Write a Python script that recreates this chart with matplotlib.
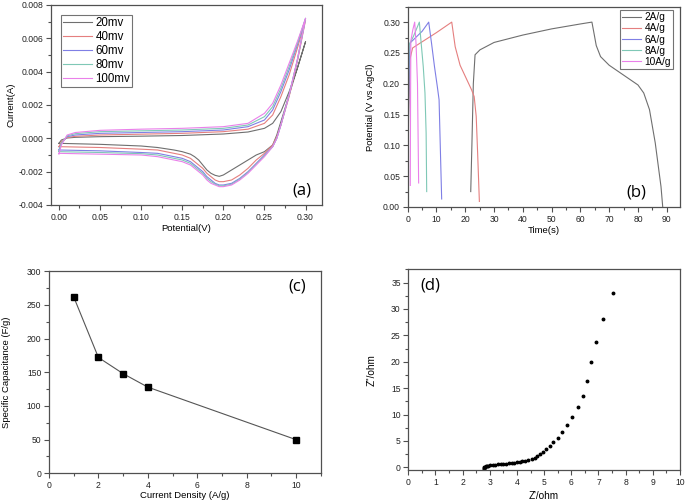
import matplotlib
matplotlib.use("Agg")
import matplotlib.pyplot as plt
from matplotlib.ticker import MultipleLocator, FormatStrFormatter

plt.rcParams['font.family'] = ['Liberation Sans', 'DejaVu Sans']

# ---------------- (a) CV data ----------------
cv_labels = ["20mv", "40mv", "60mv", "80mv", "100mv"]
cv_colors = ["#6f6f6f", "#e57f7f", "#7f7fe5", "#7fc8b6", "#ea80ea"]

v_up = [0.0, 0.003, 0.01, 0.02, 0.05, 0.10, 0.15, 0.20, 0.23, 0.25, 0.26, 0.27, 0.28, 0.29, 0.30]
i_up_20 = [-0.0003, -0.0001, 0.00002, 0.00006, 0.0001, 0.00013, 0.00017, 0.00026, 0.00038, 0.0006, 0.0009, 0.0016, 0.0028, 0.0042, 0.0058]
i_up_40 = [-0.0005, -0.0002, 0.00005, 0.00012, 0.0002, 0.00025, 0.0003, 0.0004, 0.00055, 0.0009, 0.0014, 0.0025, 0.0038, 0.0054, 0.0071]
i_up_60 = [-0.0007, -0.0003, 0.0001, 0.0002, 0.0003, 0.00035, 0.0004, 0.0005, 0.0007, 0.0011, 0.0017, 0.0028, 0.0041, 0.0056, 0.0072]
i_up_80 = [-0.0008, -0.0003, 0.00015, 0.00028, 0.0004, 0.00045, 0.0005, 0.0006, 0.0008, 0.0013, 0.0019, 0.0030, 0.0043, 0.0057, 0.0072]
i_up_100 = [-0.00095, -0.0004, 0.0002, 0.00035, 0.00048, 0.00055, 0.0006, 0.0007, 0.0009, 0.0015, 0.0021, 0.0032, 0.0045, 0.0058, 0.0072]

v_dn = [0.30, 0.29, 0.28, 0.27, 0.265, 0.26, 0.25, 0.24, 0.23, 0.22, 0.21, 0.20, 0.195, 0.19, 0.185, 0.18, 0.175, 0.17, 0.165, 0.16, 0.15, 0.14, 0.12, 0.10, 0.05, 0.0]
i_dn_20 = [0.0058, 0.0042, 0.0026, 0.0010, 0.0002, -0.0004, -0.0008, -0.0010, -0.0013, -0.0016, -0.0019, -0.0022, -0.00228, -0.00222, -0.0021, -0.0019, -0.0016, -0.0013, -0.0011, -0.00095, -0.0008, -0.0007, -0.00055, -0.00046, -0.00036, -0.0003]
i_dn_40 = [0.0071, 0.0046, 0.0025, 0.0008, 0.0001, -0.0004, -0.0009, -0.0013, -0.0018, -0.0022, -0.0025, -0.0026, -0.0026, -0.0025, -0.0023, -0.0021, -0.0018, -0.0016, -0.0014, -0.0012, -0.0010, -0.0009, -0.0007, -0.00065, -0.00055, -0.0005]
i_dn_60 = [0.0072, 0.0047, 0.0026, 0.0008, 0.0, -0.0005, -0.0010, -0.0015, -0.0020, -0.0024, -0.0027, -0.0028, -0.0028, -0.0027, -0.0025, -0.0023, -0.0020, -0.0018, -0.0016, -0.0014, -0.0012, -0.0011, -0.0009, -0.00085, -0.00075, -0.0007]
i_dn_80 = [0.0072, 0.0047, 0.0026, 0.0008, 0.0, -0.0005, -0.00105, -0.00155, -0.00205, -0.00245, -0.00275, -0.00285, -0.00285, -0.00275, -0.0026, -0.0024, -0.0021, -0.0019, -0.0017, -0.0015, -0.0013, -0.0012, -0.0010, -0.00092, -0.00085, -0.0008]
i_dn_100 = [0.0072, 0.0047, 0.0026, 0.0008, 0.0, -0.0005, -0.0011, -0.0016, -0.0021, -0.0025, -0.0028, -0.0029, -0.0029, -0.0028, -0.0027, -0.0025, -0.0022, -0.0020, -0.0018, -0.0016, -0.0014, -0.0013, -0.0011, -0.0010, -0.00095, -0.0009]

# ---------------- (b) GCD data ----------------
gcd_labels = ["2A/g", "4A/g", "6A/g", "8A/g", "10A/g"]
gcd_colors = ["#6f6f6f", "#e57f7f", "#7f7fe5", "#7fc8b6", "#ea80ea"]
t_2 = [21.9, 22.3, 22.8, 23.4, 25.1, 30, 40, 50, 60, 64.0, 64.6, 65.5, 67, 70, 75, 80, 82, 84, 86, 88, 88.6]
v_2 = [0.025, 0.10, 0.20, 0.247, 0.255, 0.267, 0.279, 0.289, 0.297, 0.30, 0.285, 0.262, 0.244, 0.23, 0.214, 0.198, 0.185, 0.158, 0.104, 0.033, 0.0]
t_4 = [0.0, 0.3, 0.8, 1.7, 5, 10, 15.3, 16.5, 18.2, 20.3, 22.2, 23.1, 23.8, 24.3, 24.9]
v_4 = [0.0, 0.15, 0.24, 0.258, 0.268, 0.283, 0.30, 0.26, 0.23, 0.209, 0.19, 0.179, 0.147, 0.087, 0.009]
t_6 = [0.0, 0.2, 0.6, 0.8, 3, 5, 7.3, 8.3, 9.3, 10.3, 10.9, 11.2, 11.8]
v_6 = [0.0, 0.12, 0.24, 0.266, 0.276, 0.285, 0.30, 0.265, 0.228, 0.195, 0.174, 0.12, 0.013]
t_8 = [0.0, 0.15, 0.4, 0.5, 2, 4.05, 4.6, 5.4, 6.0, 6.4, 6.6]
v_8 = [0.0, 0.13, 0.24, 0.263, 0.277, 0.30, 0.27, 0.228, 0.185, 0.12, 0.025]
t_10 = [0.9, 1.0, 1.1, 1.8, 2.43, 2.9, 3.4, 3.6, 3.8]
v_10 = [0.035, 0.18, 0.27, 0.288, 0.30, 0.265, 0.20, 0.12, 0.039]

# ---------------- (c) capacitance ----------------
current_density = [1, 2, 3, 4, 10]
capacitance = [262, 172, 148, 128, 50]

# ---------------- (d) Nyquist ----------------
z_re = [2.78, 2.79, 2.80, 2.82, 2.85, 2.90, 2.95, 3.0, 3.1, 3.2, 3.3, 3.4, 3.5, 3.6, 3.7, 3.8, 3.9, 4.0, 4.1, 4.2, 4.3, 4.4,
        4.55, 4.65, 4.75, 4.85, 4.96, 5.07, 5.20, 5.34, 5.50, 5.67, 5.85, 6.04, 6.23, 6.44, 6.58, 6.71, 6.91, 7.18, 7.55]
z_im = [-0.3, -0.1, 0.05, 0.15, 0.22, 0.30, 0.35, 0.40, 0.45, 0.50, 0.55, 0.60, 0.65, 0.70, 0.75, 0.80, 0.87, 0.95, 1.05, 1.15, 1.25, 1.35,
        1.5, 1.8, 2.1, 2.5, 2.9, 3.4, 4.0, 4.8, 5.6, 6.7, 8.0, 9.5, 11.4, 13.6, 16.4, 19.9, 23.7, 28.0, 33.0]

W, H = 685, 501
fig = plt.figure(figsize=(W / 100, H / 100), dpi=100)

def px_axes(l, t, r, b):
    return fig.add_axes([l / W, 1 - b / H, (r - l) / W, (b - t) / H])

spine_c = "#505050"
tick_fs = 6.2
lab_fs = 6.8

def style(ax):
    for s in ax.spines.values():
        s.set_color(spine_c)
        s.set_linewidth(0.9)
    ax.tick_params(which='both', direction='out', top=False, right=False, colors=spine_c,
                   labelcolor='#222222', labelsize=tick_fs, width=0.8)
    ax.tick_params(which='major', length=3.5, pad=2)
    ax.tick_params(which='minor', length=2)

# (a)
axa = px_axes(50.7, 5, 322, 205)
ups = [i_up_20, i_up_40, i_up_60, i_up_80, i_up_100]
dns = [i_dn_20, i_dn_40, i_dn_60, i_dn_80, i_dn_100]
for lab, c, iu, idn in zip(cv_labels, cv_colors, ups, dns):
    axa.plot(v_up + v_dn[1:], iu + idn[1:], color=c, lw=0.8, label=lab)
axa.set_xlim(-0.01, 0.32)
axa.set_ylim(-0.004, 0.008)
axa.xaxis.set_major_locator(MultipleLocator(0.05))
axa.xaxis.set_minor_locator(MultipleLocator(0.025))
axa.yaxis.set_major_locator(MultipleLocator(0.002))
axa.yaxis.set_minor_locator(MultipleLocator(0.001))
axa.xaxis.set_major_formatter(FormatStrFormatter('%.2f'))
axa.yaxis.set_major_formatter(FormatStrFormatter('%.3f'))
style(axa)
axa.set_xlabel("Potential(V)", fontsize=lab_fs, labelpad=2)
axa.set_ylabel("Current(A)", fontsize=lab_fs, labelpad=2)
leg = axa.legend(loc='upper left', bbox_to_anchor=(0.037, 0.95), borderaxespad=0, fontsize=8.3,
                 frameon=True, fancybox=False, handlelength=2.5, handletextpad=0.3,
                 labelspacing=0.17, borderpad=0.2)
leg.get_frame().set_edgecolor(spine_c)
leg.get_frame().set_linewidth(0.8)
axa.text(0.925, 0.07, "(a)", transform=axa.transAxes, fontsize=12, family='Open Sans',
         ha='center', va='center')

# (b)
axb = px_axes(407.7, 6.7, 680, 207)
for lab, c, t, v in zip(gcd_labels, gcd_colors, [t_2, t_4, t_6, t_8, t_10], [v_2, v_4, v_6, v_8, v_10]):
    axb.plot(t, v, color=c, lw=0.8, label=lab)
axb.set_xlim(0, 94.6)
axb.set_ylim(0, 0.325)
axb.xaxis.set_major_locator(MultipleLocator(10))
axb.xaxis.set_minor_locator(MultipleLocator(5))
axb.yaxis.set_major_locator(MultipleLocator(0.05))
axb.yaxis.set_minor_locator(MultipleLocator(0.025))
axb.yaxis.set_major_formatter(FormatStrFormatter('%.2f'))
style(axb)
axb.set_xlabel("Time(s)", fontsize=lab_fs, labelpad=2)
axb.set_ylabel("Potential (V vs AgCl)", fontsize=lab_fs, labelpad=6)
legb = axb.legend(loc='upper right', bbox_to_anchor=(0.974, 0.983), borderaxespad=0, fontsize=7.3,
                  frameon=True, fancybox=False, handlelength=1.9, handletextpad=0.3,
                  labelspacing=0.12, borderpad=0.2)
legb.get_frame().set_edgecolor(spine_c)
legb.get_frame().set_linewidth(0.8)
axb.text(0.838, 0.071, "(b)", transform=axb.transAxes, fontsize=12, family='Open Sans',
         ha='center', va='center')

# (c)
axc = px_axes(49, 271.3, 320.7, 473.3)
axc.plot(current_density, capacitance, color='#555555', lw=0.8, marker='s', ms=4,
         mfc='black', mec='black')
axc.set_xlim(0, 11)
axc.set_ylim(0, 300)
axc.xaxis.set_major_locator(MultipleLocator(2))
axc.xaxis.set_minor_locator(MultipleLocator(1))
axc.yaxis.set_major_locator(MultipleLocator(50))
axc.yaxis.set_minor_locator(MultipleLocator(25))
style(axc)
axc.set_xlabel("Current Density (A/g)", fontsize=lab_fs, labelpad=1)
axc.set_ylabel("Specific Capacitance (F/g)", fontsize=lab_fs, labelpad=11)
axc.text(0.912, 0.927, "(c)", transform=axc.transAxes, fontsize=12, family='Open Sans',
         ha='center', va='center')

# (d)
axd = px_axes(408.3, 269.3, 680, 470)
axd.plot(z_re, z_im, linestyle='none', marker='o', ms=1.8, color='black')
axd.set_xlim(0, 10)
axd.set_ylim(-0.5, 37.5)
axd.xaxis.set_major_locator(MultipleLocator(1))
axd.xaxis.set_minor_locator(MultipleLocator(0.5))
axd.yaxis.set_major_locator(MultipleLocator(5))
axd.yaxis.set_minor_locator(MultipleLocator(2.5))
style(axd)
axd.set_xlabel("Z'/ohm", fontsize=lab_fs + 0.4, labelpad=3)
axd.set_ylabel("Z''/ohm", fontsize=lab_fs + 0.4, labelpad=10)
axd.text(0.082, 0.917, "(d)", transform=axd.transAxes, fontsize=12, family='Open Sans',
         ha='center', va='center')

fig.savefig("out.png", dpi=100)
